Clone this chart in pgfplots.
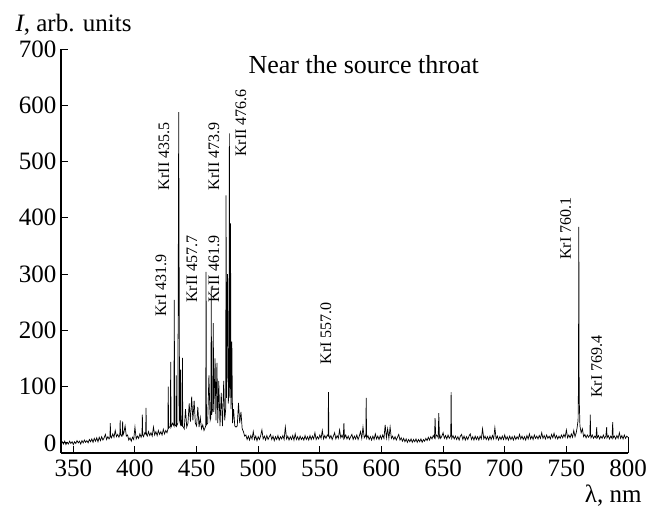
\documentclass[border=0pt]{standalone}
\usepackage{fontspec}
\setmainfont{Liberation Serif}
\usepackage{pgfplots}
\pgfplotsset{compat=1.18}
\begin{document}
\begin{tikzpicture}
\begin{axis}[
  at={(0pt,0pt)}, anchor=south west,
  scale only axis, width=567pt, height=404pt,
  xmin=340, xmax=800, ymin=-18, ymax=700,
  axis x line*=bottom, axis y line*=left,
  axis line style={line width=1.1pt,-},
  xtick={350,400,...,800}, ytick={0,100,...,700},
  tick align=inside, major tick length=7pt,
  tick style={line width=1pt,black},
  /pgf/number format/assume math mode=true,
  /pgf/number format/1000 sep={},
  ticklabel style={font=\fontsize{25}{30}\selectfont},
  xticklabel style={yshift=-3pt},
  yticklabel style={xshift=-1pt},
  clip=false,
]
\addplot[black, line width=0.7pt] coordinates {
(340,-3)(341,2)(342,-2)(343,3)(344,-3)(345,1)(346,-2)(347,3)(348,-1)(349,2)(350,-3)(351,2)(352,-1)(353,4)(354,0)(355,3)(356,-2)(357,4)(358,0)(359,5)(360,1)(361,4)(362,0)(363,6)(364,2)(365,7)(366,1)(367,8)(368,3)(369,9)(370,2)(371,10)(372,4)(373,11)(374,5)(375,9)
(376,15)(377,6)(378,11)(379,7)(379.7,10)(380,35)(380.3,12)(381,9)(382,16)(383,10)(384,22)(385,11)(386,15)(387,10)(387.7,14)(388,40)(388.3,16)(389,12)(389.7,15)(390,38)(390.3,14)(391,18)
(392,30)(393,12)(394,14)(395,5)(396,9)(397,3)(398,10)(399,6)(400,28)(401,7)(402,12)(403,8)(404,16)(405,10)(405.7,15)(406,50)(406.3,14)(407,11)(408,18)(408.7,16)(409,62)(409.3,15)(410,12)
(411,20)(412,13)(413,18)(414,12)(415,28)(416,14)(417,20)(418,13)(419,22)(420,15)(421,20)(422,14)(423,24)(424,16)(425,22)(426,18)
(426.7,24)(427,100)(427.3,26)(428.7,30)(429,144)(429.3,28)(430.5,35)(431.6,30)(431.9,254)(432.2,32)
(433.2,30)(433.5,120)(433.8,30)(434.8,35)(435.5,588)(436.2,40)(436.7,35)(437,130)(437.3,32)(438.2,30)(438.5,151)(438.8,30)
(440,25)(441,60)(442,28)(443,35)(444,70)(445,38)(446,82)(447,40)(448,75)(449,35)(450,30)(451,64)(452,28)(453,45)(454,25)(455,32)(456,22)
(457.4,30)(457.7,304)(458,32)(459,35)(460,120)(461,40)(461.6,45)(461.9,277)(462.2,50)(463,60)(463.5,213)(464,55)
(465,150)(465.7,40)(466.5,142)(467.2,35)(468,110)(469,30)(470,89)(471,30)(472,110)(472.8,40)
(473.6,60)(473.9,440)(474.3,80)(475,300)(475.7,70)(476.2,90)(476.6,550)(477,80)(477.5,390)(478,60)(478.6,180)(479.2,35)
(480,60)(481,30)(482,28)(483,30)(484,71)(485,35)(486,55)(487,25)(488,20)(489,12)
(490,14)(491,6)(492,12)(493,5)(494,13)(495,7)(496,20)(497,6)(498,12)(499,4)(500,11)(501,6)(502,13)(503,23)(504,7)(505,12)(506,5)(507,13)(508,6)(509,11)(510,15)(511,6)(512,12)(513,4)(514,11)(515,6)(516,13)(517,5)(518,11)(519,7)(520,13)(521,6)
(522,28)(523,7)(524,12)(525,5)(526,11)(527,6)(528,13)(529,5)(530,16)(531,6)(532,11)(533,5)(534,12)(535,6)(536,10)(537,5)(538,13)(539,6)(540,11)(541,5)(542,13)(543,6)(544,12)(545,7)(546,18)(547,6)(548,11)(549,7)(550,14)(551,8)(552,22)(553,7)(554,13)(555,8)(556,14)
(556.7,12)(557,90)(557.3,14)(558,8)(559,13)(560,6)(561,12)(562,18)(563,7)(564,13)(565,8)(566,23)(567,9)(568,14)(569,8)(569.5,35)(570,9)(571,14)(572,7)(573,12)(574,6)(575,11)(576,15)(577,6)(578,12)(579,7)(580,14)(581,6)(582,12)
(583,20)(584,8)(585,28)(586,9)(587,13)(587.3,12)(587.6,80)(587.9,12)(588,8)(589,13)(590,6)(591,11)(592,5)(593,12)(594,6)(595,16)(596,7)(597,12)(598,6)(599,13)(600,7)(601,14)(602,8)
(603,32)(604,9)(605,25)(606,8)(607,28)(608,8)(609,12)(610,6)(611,11)(612,5)(613,10)(614,15)(615,5)(616,9)(617,3)(618,8)(619,2)(620,7)(621,1)(622,6)(623,2)(624,7)(625,1)(626,6)(627,2)(628,7)(629,1)(630,6)(631,2)
(632,7)(633,1)(634,6)(635,3)(636,8)(637,4)(638,10)(639,5)(640,11)(641,7)(642,13)(643,9)(643.5,44)(644,10)(644.5,14)(645.5,12)(646,9)(646.5,53)(647,10)(647.5,13)(648,8)(649,12)(650,18)(651,8)(652,13)(653,7)(654,14)(655,8)(656,12)
(656.2,14)(656.5,90)(656.8,15)(657,8)(658,13)(659,7)(660,12)(661,6)(662,11)(663,5)(664,12)(665,15)(666,6)(667,12)(668,5)(669,11)(670,6)(671,12)(672,16)(673,6)(674,11)(675,5)(676,12)(677,6)(678,11)(679,5)(680,12)(681,7)
(682,25)(683,7)(684,12)(685,6)(686,11)(687,5)(688,12)(689,6)(690,13)(691,7)(692,27)(693,7)(694,12)(695,5)(696,11)(697,6)(698,12)(699,6)(700,14)(701,6)(702,11)(703,5)(704,12)(705,6)(706,11)(707,5)(708,12)(709,6)(710,11)(711,7)(712,15)(713,7)(714,12)
(715,6)(716,11)(717,5)(718,13)(719,7)(720,16)(721,7)(722,12)(723,6)(724,14)(725,8)(726,12)(727,7)(728,13)(729,8)(730,18)(731,8)(732,13)(733,7)(734,14)(735,8)(736,12)(737,7)(738,15)(739,9)(740,17)(741,8)(742,13)(743,7)(744,12)(745,8)(746,14)(747,9)(748,15)
(749,10)(750,23)(751,9)(752,14)(753,9)(754,16)(755,10)(756,22)(757,11)(758,18)(758.7,27)(759.5,40)(759.8,100)(760.1,384)(760.4,80)(761,30)(762,18)(763,25)(764,11)(765,15)(766,9)(767,14)(768,10)
(769.1,14)(769.4,50)(769.7,14)(770,9)(771,14)(772,8)(773,12)(774,9)(774.6,28)(775,9)(776,13)(777,7)(778,12)(779,8)(780,14)(781,8)(782,12)(782.7,28)(783,9)(784,13)(785,7)(786,12)(787,8)(787.6,37)(788,9)(789,12)(790,7)
(791,13)(792,8)(793,18)(794,8)(795,13)(796,7)(797,14)(798,8)(799,12)(800,10)
};
\draw[line width=1pt] (axis cs:800,-18) -- (axis cs:800,10);
\node[anchor=base west, font=\fontsize{25}{30}\selectfont, xshift=-49pt, yshift=18pt] at (rel axis cs:0,1) {\textit{I}, arb. units};
\node[anchor=base east, font=\fontsize{25}{30}\selectfont, xshift=17pt, yshift=-49pt] at (rel axis cs:1,0) {λ, nm};
\node[anchor=base west, font=\fontsize{26}{30}\selectfont, xshift=184pt, yshift=-24pt] at (rel axis cs:0,1) {Near the source throat};
\begin{scope}[every node/.style={rotate=90, anchor=west, font=\fontsize{16}{18}\selectfont, inner sep=0pt}]
\node at (axis cs:421.1,224) {KrI 431.9};
\node at (axis cs:423.5,449) {KrII 435.5};
\node at (axis cs:446.2,249) {KrII 457.7};
\node at (axis cs:464.1,249) {KrII 461.9};
\node at (axis cs:464.1,449) {KrII 473.9};
\node at (axis cs:486,508) {KrII 476.6};
\node at (axis cs:554.9,139) {KrI 557.0};
\node at (axis cs:749.5,325) {KrI 760.1};
\node at (axis cs:774.6,80) {KrI 769.4};
\end{scope}
\end{axis}
\pgfresetboundingbox
\path (-61pt,-56pt) rectangle (600pt,453pt);
\end{tikzpicture}
\end{document}
